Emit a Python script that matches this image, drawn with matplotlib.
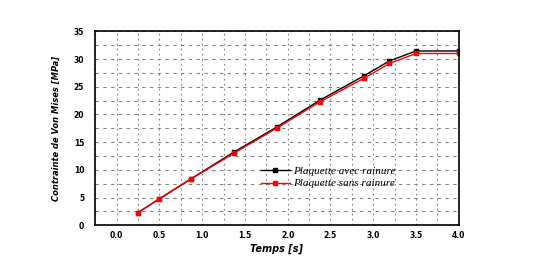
import numpy as np
import matplotlib
matplotlib.use("Agg")
import matplotlib.pyplot as plt

# Données
temps = [0.25, 0.5, 0.87, 1.37, 1.88, 2.38, 2.89, 3.19, 3.5, 4.0]
avec_rainure = [2.3, 4.8, 8.4, 13.2, 17.8, 22.6, 26.95, 29.65, 31.45, 31.45]
sans_rainure = [2.3, 4.75, 8.35, 13.0, 17.6, 22.3, 26.5, 29.2, 31.0, 31.0]

x_ticks = [0.0, 0.5, 1.0, 1.5, 2.0, 2.5, 3.0, 3.5, 4.0]
y_ticks = [0, 5, 10, 15, 20, 25, 30, 35]

fig = plt.figure(figsize=(5.33, 2.71), dpi=100)
ax = fig.add_axes([95.3 / 533, 1 - 225.3 / 271, (458.7 - 95.3) / 533, (225.3 - 31.3) / 271])

ax.plot(temps, avec_rainure, color="black", lw=1, marker="s", ms=3.5,
        label="Plaquette avec rainure")
ax.plot(temps, sans_rainure, color="red", lw=1, marker="s", ms=3.5,
        label="Plaquette sans rainure")

ax.set_xlim(-0.25, 4.0)
ax.set_ylim(0, 35)
ax.set_xticks(x_ticks)
ax.set_xticklabels(["%.1f" % v for v in x_ticks])
ax.set_yticks(y_ticks)
ax.set_xticks(np.arange(-0.25, 4.01, 0.25), minor=True)
ax.set_yticks(np.arange(0, 35.1, 2.5), minor=True)
ax.tick_params(which="both", length=0, labelsize=5.5)
ax.tick_params(axis="x", pad=4)
ax.tick_params(axis="y", pad=8)
for lab in ax.get_xticklabels() + ax.get_yticklabels():
    lab.set_fontweight("bold")
ax.grid(axis="x", which="both", color="gray", ls=(0, (1.5, 3)), lw=0.8)
ax.grid(axis="y", which="both", color="gray", ls=(0, (3, 4)), lw=0.8)
for s in ax.spines.values():
    s.set_linewidth(1.2)
    s.set_zorder(5)

ax.set_xlabel("Temps [s]", fontsize=7, fontweight="bold", style="italic", labelpad=3)
ax.set_ylabel("Contrainte de Von Mises [MPa]", fontsize=6, fontweight="bold",
              style="italic", labelpad=9)

leg = ax.legend(loc="upper left", bbox_to_anchor=(0.456, 0.305), frameon=False,
                prop={"family": "Liberation Serif", "style": "italic", "size": 8},
                handlelength=2.6, handletextpad=0.3, labelspacing=0.25, borderpad=0,
                borderaxespad=0)

fig.savefig("out.png", dpi=100)
